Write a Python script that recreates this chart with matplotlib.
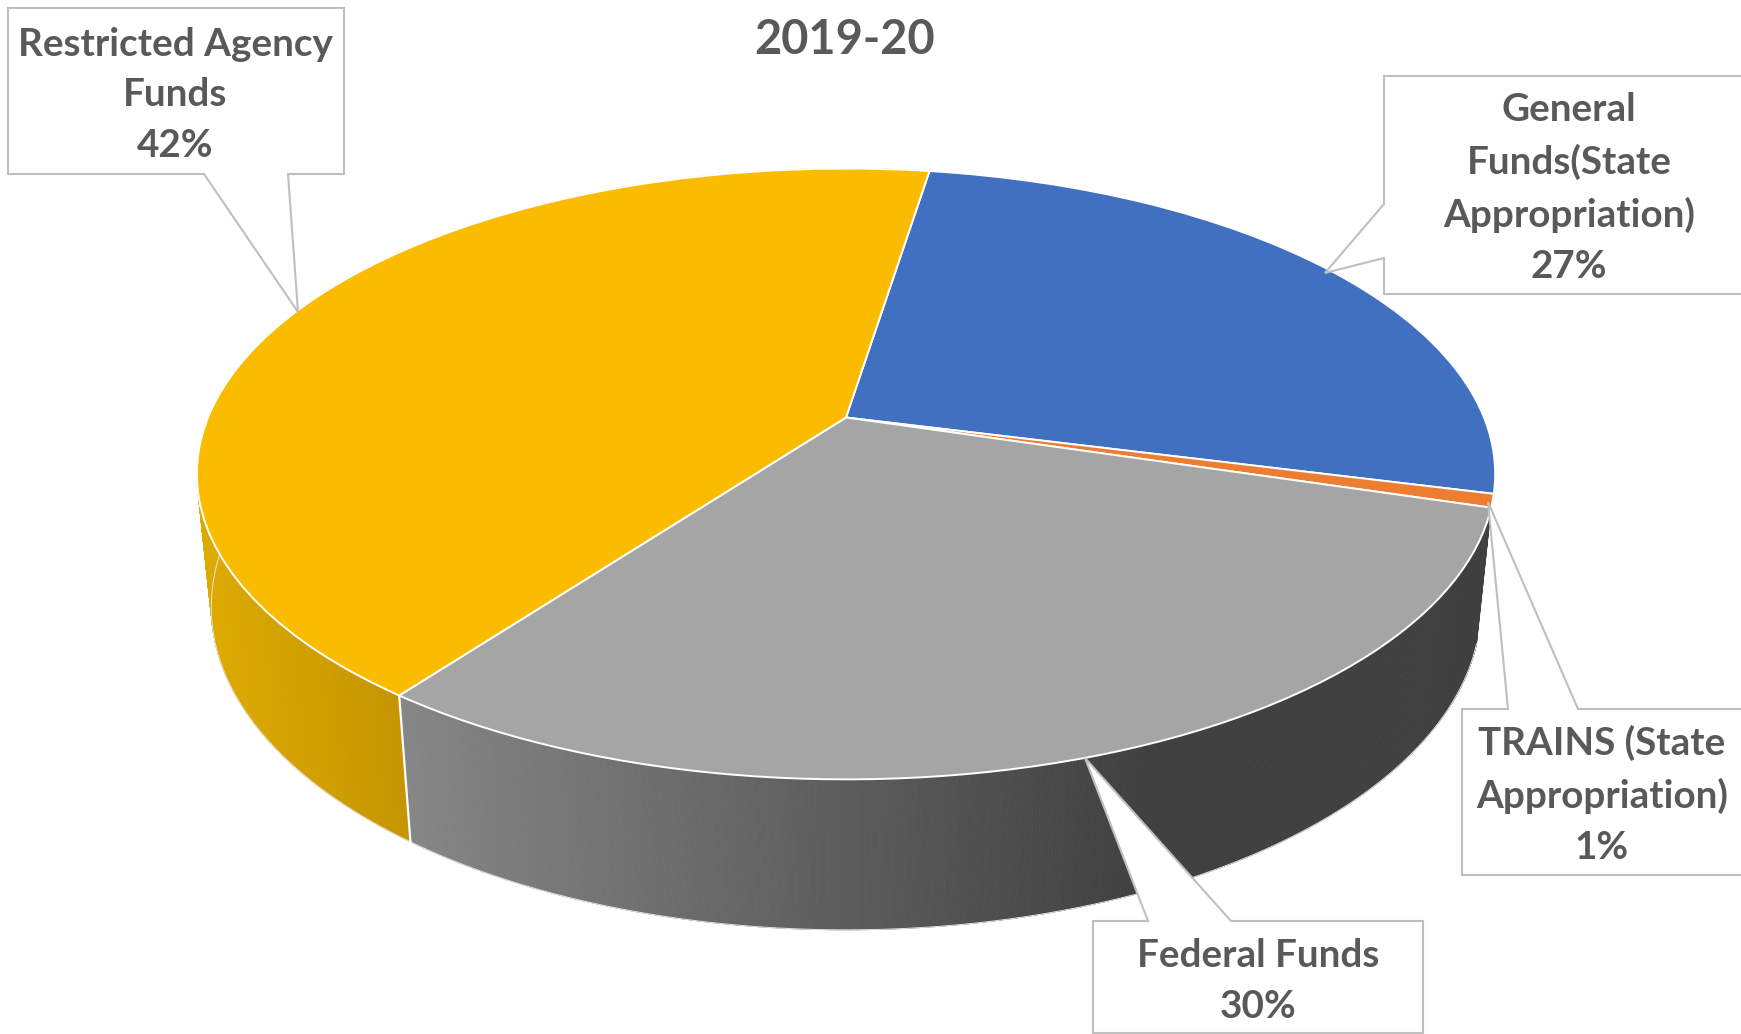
import numpy as np
import matplotlib
matplotlib.use("Agg")
import matplotlib.pyplot as plt
from matplotlib.collections import PolyCollection
from matplotlib.colors import to_rgb
from matplotlib.patches import Polygon
from matplotlib.transforms import Transform

# ---- data -------------------------------------------------------------
title = "2019-20"
categories = ["General\nFunds(State\nAppropriation)", "TRAINS (State\nAppropriation)",
              "Federal Funds", "Restricted Agency\nFunds"]
percent_labels = ["27%", "1%", "30%", "42%"]
slice_values = [26.5, 0.7, 30.5, 42.3]
slice_colors = ["#4170C0", "#ED7D31", "#A5A5A5", "#FBBC00"]
start_clockwise_from_top = 8.9

# ---- projection of the tilted disc, in figure pixels ---------------------
W, H = 1741, 1034
CX, CY = 846.0, 417.5
A, B = 638.0, 295.0
K = 0.1847          # perspective along the depth of the disc
DEPTH_Y, DEPTH_W = 134.0, 0.022   # extrusion of the disc


def project(x, y, z=0.0):
    """x, y in pie coordinates (radius 1, y up); z = 0 top face, 1 bottom."""
    depth = -np.asarray(y)
    w = 1 - K * depth + DEPTH_W * z
    return CX + A * np.asarray(x) / w, CY + (B * depth + DEPTH_Y * z) / w


class TiltTransform(Transform):
    input_dims = output_dims = 2
    is_affine = False

    def transform_non_affine(self, values):
        values = np.asarray(values, dtype=float)
        px, py = project(values[:, 0], values[:, 1])
        return np.column_stack([px, py])


def lerp_color(c0, c1, t):
    c0, c1 = np.array(to_rgb(c0)), np.array(to_rgb(c1))
    return tuple(c0 + (c1 - c0) * np.clip(t, 0, 1))


fig = plt.figure(figsize=(W / 100, H / 100), dpi=100, facecolor="white")
ax = fig.add_axes([0, 0, 1, 1])
FONT = ["Lato", "DejaVu Sans"]

wedges, _ = ax.pie(slice_values, startangle=90 - start_clockwise_from_top,
                   counterclock=False, colors=slice_colors,
                   wedgeprops=dict(edgecolor="white", linewidth=1.4, zorder=3))
tilt = TiltTransform() + ax.transData
for w in wedges:
    w.set_transform(tilt)

ax.set_aspect("auto")
ax.set_xlim(0, W)
ax.set_ylim(H, 0)
ax.axis("off")

# ---- side walls, built from the same slice values -------------------------
bounds = start_clockwise_from_top + np.cumsum([0] + slice_values) * 3.6


def wall_shade_gray(x):
    return lerp_color("#868686", "#404040", (x - 398) / (1145 - 398))


def wall_shade_yellow(x):
    return lerp_color("#DDAA00", "#C49400", (x - 205) / (410 - 205))


wall_shades = {2: wall_shade_gray, 3: wall_shade_yellow}
for idx, shade in wall_shades.items():
    th = np.radians(np.linspace(bounds[idx], bounds[idx + 1], 400))
    px, py = np.sin(th), np.cos(th)
    tx, ty = project(px, py, 0.0)
    bx, by = project(px, py, 1.0)
    quads = [[(tx[i], ty[i]), (tx[i + 1], ty[i + 1]), (bx[i + 1], by[i + 1]), (bx[i], by[i])]
             for i in range(len(th) - 1)]
    cols = [shade(0.5 * (tx[i] + tx[i + 1])) for i in range(len(th) - 1)]
    ax.add_collection(PolyCollection(quads, facecolors=cols, edgecolors=cols,
                                     linewidths=0.6, zorder=1), autolim=False)
    ax.plot(bx, by, color="#E4E4E4", lw=0.7, zorder=1.5)

# white seam between yellow and gray walls
th = np.radians(bounds[3])
sx0, sy0 = project(np.sin(th), np.cos(th), 0.0)
sx1, sy1 = project(np.sin(th), np.cos(th), 1.0)
ax.plot([sx0, sx1], [sy0, sy1], color="white", lw=1.6, zorder=2)

# ---- callouts -----------------------------------------------------------
EDGE = "#BFBFBF"
TEXT = "#595959"
callouts = [
    [(1384, 76), (1760, 76), (1760, 294), (1384, 294), (1384, 258), (1325, 273), (1384, 204)],
    [(1462, 709), (1508, 709), (1488, 502), (1578, 709), (1760, 709), (1760, 875), (1462, 875)],
    [(1093, 921), (1148, 921), (1085, 758), (1231, 921), (1423, 921), (1423, 1033), (1093, 1033)],
    [(8, 8), (344, 8), (344, 174), (288, 174), (298, 312), (204, 174), (8, 174)],
]
label_centers = [(1569, 188), (1602, 795), (1258, 981), (175, 95)]

for poly, (lx, ly), cat, pct in zip(callouts, label_centers, categories, percent_labels):
    ax.add_patch(Polygon(poly, closed=True, facecolor="white", edgecolor=EDGE,
                         linewidth=1.5, zorder=4, joinstyle="miter"))
    ax.text(lx, ly, f"{cat}\n{pct}", ha="center", va="center", fontsize=27.8,
            fontweight="bold", family=FONT, color=TEXT, linespacing=1.55, zorder=5)

ax.text(845, 40, title, ha="center", va="center", fontsize=33.8, fontweight="bold",
        family=FONT, color=TEXT, zorder=5)

fig.savefig("out.png", dpi=100, facecolor="white")
